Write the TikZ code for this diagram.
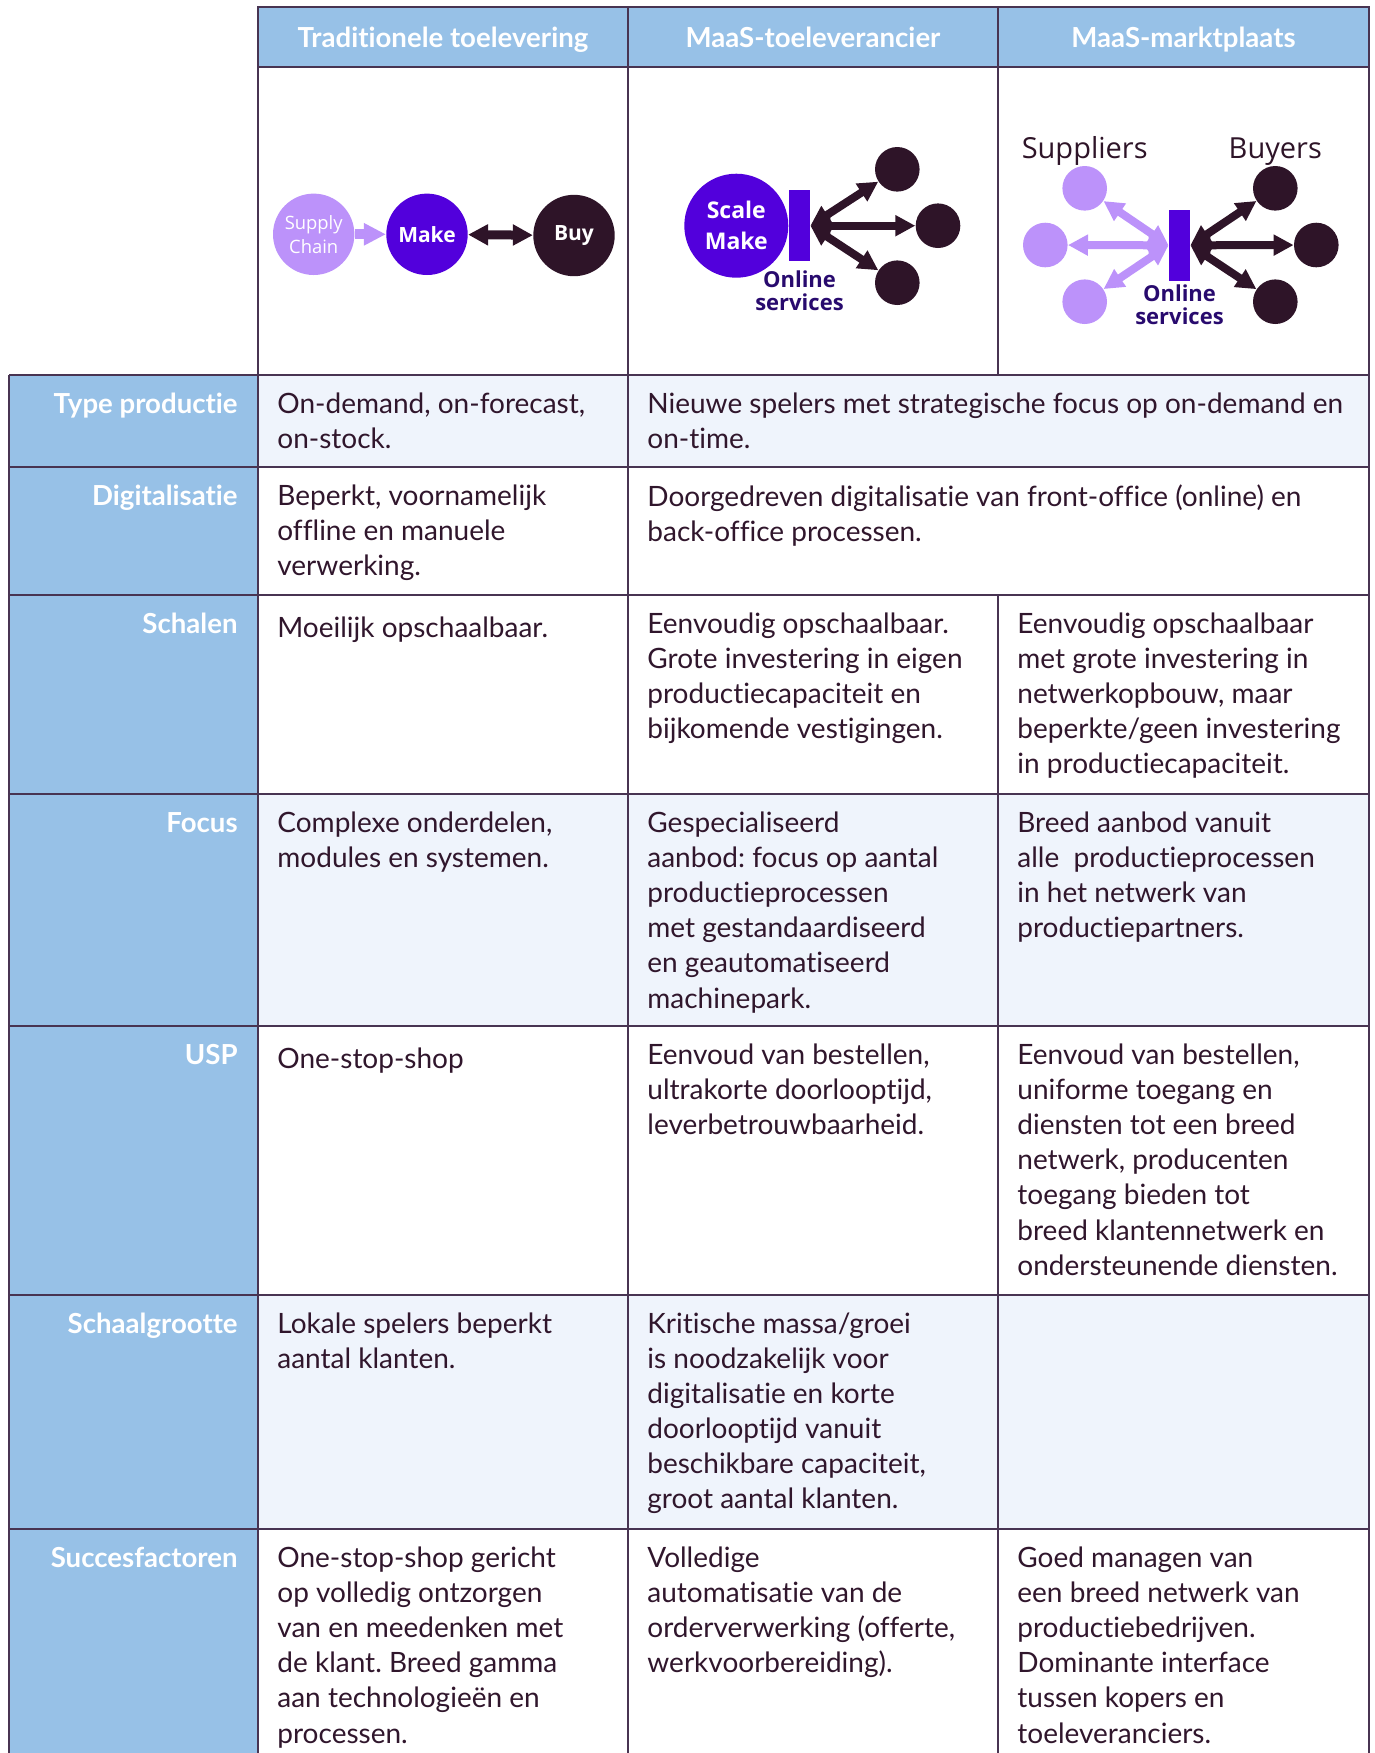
\documentclass[tikz,border=0pt]{standalone}
\usepackage{fontspec}
\setmainfont{Lato}[Ligatures=NoCommon]
\newfontfamily\diagfont{Open Sans}
\frenchspacing
\usetikzlibrary{positioning, arrows.meta, calc}
\def\HeadColor{rgb,255:red,151;green,193;blue,231}
\def\LightRowColor{rgb,255:red,239;green,244;blue,252}
\def\LineColor{rgb,255:red,72;green,52;blue,82}
\def\TextColor{rgb,255:red,48;green,22;blue,44}
\def\MakeColor{rgb,255:red,82;green,0;blue,220}
\def\SupplyColor{rgb,255:red,188;green,146;blue,250}
\def\BuyColor{rgb,255:red,46;green,20;blue,40}
\def\PortalColor{rgb,255:red,40;green,10;blue,110}

\begin{document}
\begin{tikzpicture}[
    x=0.5pt, y=-0.5pt,
    gridline/.style={draw=\LineColor, line width=1pt},
    colhead/.style={anchor=base, inner sep=0, text=white, font=\fontsize{13.8}{16}\selectfont\bfseries},
    rowhead/.style={anchor=base east, inner sep=0, text=white, font=\fontsize{13.8}{16}\selectfont\bfseries},
    celltext/.style={anchor=north west, align=left, inner sep=0, text=\TextColor,
        font=\fontsize{14}{17.55}\selectfont, execute at begin node=\strut},
    bigdisc/.style={circle, inner sep=0, minimum size=40.7pt, text=white, align=center},
    smalldisc/.style={circle, inner sep=0, minimum size=22.3pt},
    portal/.style={rectangle, inner sep=0, fill=\MakeColor, minimum width=10.5pt, minimum height=35.4pt},
    portaltext/.style={inner sep=0, align=center, text=\PortalColor, font=\diagfont\fontsize{11}{11.5}\selectfont\bfseries},
    flowarrow/.style={-{Triangle[width=10.5pt, length=11pt]}, line width=5pt},
    linkarrow/.style={{Triangle[width=10pt, length=10pt]}-{Triangle[width=10pt, length=10pt]}, line width=4pt}
]
\useasboundingbox (0,0) rectangle (1375,1753);
\clip (0,0) rectangle (1375,1753);

%%%%%%%%%%%%%%%%%%%%%%%%%%%%%%%%%%%%%%%%%%%%%%%%%%%%%%%%%%%%%%%%%%%
% Backgrounds
%%%%%%%%%%%%%%%%%%%%%%%%%%%%%%%%%%%%%%%%%%%%%%%%%%%%%%%%%%%%%%%%%%%
\fill[fill=\HeadColor] (258,7) rectangle (1369,67);
\fill[fill=\HeadColor] (9,374.5) rectangle (258,1760);
\foreach \ya/\yb in {374.5/467, 794/1026, 1294.5/1529}
  \fill[fill=\LightRowColor] (258,\ya) rectangle (1369,\yb);

%%%%%%%%%%%%%%%%%%%%%%%%%%%%%%%%%%%%%%%%%%%%%%%%%%%%%%%%%%%%%%%%%%%
% Grid
%%%%%%%%%%%%%%%%%%%%%%%%%%%%%%%%%%%%%%%%%%%%%%%%%%%%%%%%%%%%%%%%%%%
\draw[gridline] (258,7) rectangle (1369,374.5);
\draw[gridline] (258,67) -- (1369,67);
\draw[gridline] (628,7) -- (628,374.5) (998,7) -- (998,374.5);
\foreach \y in {374.5, 467, 595, 794, 1026, 1294.5, 1529}
  \draw[gridline] (9,\y) -- (1369,\y);
\draw[gridline] (9,374.5) -- (9,1760) (258,374.5) -- (258,1760)
  (628,374.5) -- (628,1760) (998,595) -- (998,1760) (1369,374.5) -- (1369,1760);

%%%%%%%%%%%%%%%%%%%%%%%%%%%%%%%%%%%%%%%%%%%%%%%%%%%%%%%%%%%%%%%%%%%
% Column headers
%%%%%%%%%%%%%%%%%%%%%%%%%%%%%%%%%%%%%%%%%%%%%%%%%%%%%%%%%%%%%%%%%%%
\node[colhead] (head_trad) at (443, 47) {Traditionele toelevering};
\node[colhead] (head_lev) at (813, 47) {MaaS-toeleverancier};
\node[colhead] (head_mp) at (1183.5, 47) {MaaS-marktplaats};

%%%%%%%%%%%%%%%%%%%%%%%%%%%%%%%%%%%%%%%%%%%%%%%%%%%%%%%%%%%%%%%%%%%
% Diagram: Traditionele toelevering
%%%%%%%%%%%%%%%%%%%%%%%%%%%%%%%%%%%%%%%%%%%%%%%%%%%%%%%%%%%%%%%%%%%
\node[bigdisc, fill=\SupplyColor, font=\diagfont\fontsize{9.2}{11.8}\selectfont] (trad_supply) at (313.7, 234.3) {Supply\\Chain};
\node[bigdisc, fill=\MakeColor, font=\diagfont\fontsize{10.5}{12}\selectfont\bfseries] (trad_make) at (427, 234.3) {Make};
\node[bigdisc, fill=\BuyColor, font=\diagfont\fontsize{10.5}{12}\selectfont\bfseries] (trad_buy) at (574, 235.5) {Buy};

%%%%%%%%%%%%%%%%%%%%%%%%%%%%%%%%%%%%%%%%%%%%%%%%%%%%%%%%%%%%%%%%%%%
% Diagram: MaaS-toeleverancier
%%%%%%%%%%%%%%%%%%%%%%%%%%%%%%%%%%%%%%%%%%%%%%%%%%%%%%%%%%%%%%%%%%%
\node[bigdisc, minimum size=52pt, fill=\MakeColor, font=\diagfont\fontsize{11.5}{15.5}\selectfont\bfseries] (lev_make) at (736.3, 225.7) {Scale\\Make};
\node[portal] (lev_portal) at (799.5, 225.7) {};
\node[portaltext, below=4.5pt of lev_portal] (lev_online) {Online\\services};

% Buyers
\node[smalldisc, fill=\BuyColor] (lev_buy1) at (897.3, 169.3) {};
\node[smalldisc, fill=\BuyColor] (lev_buy2) at (938, 225.7) {};
\node[smalldisc, fill=\BuyColor] (lev_buy3) at (897.3, 282.7) {};

%%%%%%%%%%%%%%%%%%%%%%%%%%%%%%%%%%%%%%%%%%%%%%%%%%%%%%%%%%%%%%%%%%%
% Diagram: MaaS-marktplaats
%%%%%%%%%%%%%%%%%%%%%%%%%%%%%%%%%%%%%%%%%%%%%%%%%%%%%%%%%%%%%%%%%%%
\node[portal] (mp_portal) at (1179.5, 245.3) {};
\node[portaltext, below=1.8pt of mp_portal] (mp_online) {Online\\services};

% Suppliers
\node[smalldisc, fill=\SupplyColor] (mp_sup1) at (1084.7, 188.3) {};
\node[smalldisc, fill=\SupplyColor] (mp_sup2) at (1045.3, 245) {};
\node[smalldisc, fill=\SupplyColor] (mp_sup3) at (1084.7, 301.7) {};
\node[inner sep=0, text=\BuyColor, font=\diagfont\fontsize{14.5}{16}\selectfont, above=0pt of mp_sup1] (mp_suplabel) {Suppliers};

% Buyers
\node[smalldisc, fill=\BuyColor] (mp_buy1) at (1275.3, 188.3) {};
\node[smalldisc, fill=\BuyColor] (mp_buy2) at (1316.3, 245) {};
\node[smalldisc, fill=\BuyColor] (mp_buy3) at (1275.3, 301.7) {};
\node[inner sep=0, text=\BuyColor, font=\diagfont\fontsize{14.5}{16}\selectfont, above=0pt of mp_buy1] (mp_buylabel) {Buyers};

%%%%%%%%%%%%%%%%%%%%%%%%%%%%%%%%%%%%%%%%%%%%%%%%%%%%%%%%%%%%%%%%%%%
% Row headers
%%%%%%%%%%%%%%%%%%%%%%%%%%%%%%%%%%%%%%%%%%%%%%%%%%%%%%%%%%%%%%%%%%%
\node[rowhead] (typ_head) at (238, 413) {Type productie};
\node[rowhead] (dig_head) at (238, 505.5) {Digitalisatie};
\node[rowhead] (sch_head) at (238, 633.5) {Schalen};
\node[rowhead] (foc_head) at (238, 832.5) {Focus};
\node[rowhead] (usp_head) at (238, 1064.5) {USP};
\node[rowhead] (grt_head) at (238, 1333) {Schaalgrootte};
\node[rowhead] (suc_head) at (238, 1567.5) {Succesfactoren};

%%%%%%%%%%%%%%%%%%%%%%%%%%%%%%%%%%%%%%%%%%%%%%%%%%%%%%%%%%%%%%%%%%%
% Cells
%%%%%%%%%%%%%%%%%%%%%%%%%%%%%%%%%%%%%%%%%%%%%%%%%%%%%%%%%%%%%%%%%%%
% Type productie
\node[celltext] (typ_trad) at (277, 392) {On-demand, on-forecast,\\on-stock.};
\node[celltext] (typ_maas) at (647, 392) {Nieuwe spelers met strategische focus op on-demand en\\on-time.};

% Digitalisatie
\node[celltext] (dig_trad) at (277, 484.5) {Beperkt, voornamelijk\\offline en manuele\\verwerking.};
\node[celltext] (dig_maas) at (647, 484.5) {Doorgedreven digitalisatie van front-office (online) en\\back-office processen.};

% Schalen
\node[celltext] (sch_trad) at (277, 612.5) {Moeilijk opschaalbaar.};
\node[celltext] (sch_lev) at (647, 612.5) {Eenvoudig opschaalbaar.\\Grote investering in eigen\\productiecapaciteit en\\bijkomende vestigingen.};
\node[celltext] (sch_mp) at (1017, 612.5) {Eenvoudig opschaalbaar\\met grote investering in\\netwerkopbouw, maar\\beperkte/geen investering\\in productiecapaciteit.};

% Focus
\node[celltext] (foc_trad) at (277, 811.5) {Complexe onderdelen,\\modules en systemen.};
\node[celltext] (foc_lev) at (647, 811.5) {Gespecialiseerd\\aanbod: focus op aantal\\productieprocessen\\met gestandaardiseerd\\en geautomatiseerd\\machinepark.};
\node[celltext] (foc_mp) at (1017, 811.5) {Breed aanbod vanuit\\alle\ \ productieprocessen\\in het netwerk van\\productiepartners.};

% USP
\node[celltext] (usp_trad) at (277, 1043.5) {One-stop-shop};
\node[celltext] (usp_lev) at (647, 1043.5) {Eenvoud van bestellen,\\ultrakorte doorlooptijd,\\leverbetrouwbaarheid.};
\node[celltext] (usp_mp) at (1017, 1043.5) {Eenvoud van bestellen,\\uniforme toegang en\\diensten tot een breed\\netwerk, producenten\\toegang bieden tot\\breed klantennetwerk en\\ondersteunende diensten.};

% Schaalgrootte
\node[celltext] (grt_trad) at (277, 1312) {Lokale spelers beperkt\\aantal klanten.};
\node[celltext] (grt_lev) at (647, 1312) {Kritische massa/groei\\is noodzakelijk voor\\digitalisatie en korte\\doorlooptijd vanuit\\beschikbare capaciteit,\\groot aantal klanten.};

% Succesfactoren
\node[celltext] (suc_trad) at (277, 1546.5) {One-stop-shop gericht\\op volledig ontzorgen\\van en meedenken met\\de klant. Breed gamma\\aan technologieën en\\processen.};
\node[celltext] (suc_lev) at (647, 1546.5) {Volledige\\automatisatie van de\\orderverwerking (offerte,\\werkvoorbereiding).};
\node[celltext] (suc_mp) at (1017, 1546.5) {Goed managen van\\een breed netwerk van\\productiebedrijven.\\Dominante interface\\tussen kopers en\\toeleveranciers.};

%%%%%%%%%%%%%%%%%%%%%%%%%%%%%%%%%%%%%%%%%%%%%%%%%%%%%%%%%%%%%%%%%%%
% Connections
%%%%%%%%%%%%%%%%%%%%%%%%%%%%%%%%%%%%%%%%%%%%%%%%%%%%%%%%%%%%%%%%%%%
\draw[flowarrow, draw=\SupplyColor] (trad_supply) -- (trad_make);
\draw[linkarrow, line width=4.5pt, draw=\BuyColor] (trad_make) -- (trad_buy);

\draw[linkarrow, draw=\BuyColor] (lev_portal.east) -- (lev_buy1);
\draw[linkarrow, draw=\BuyColor] (lev_portal.east) -- (lev_buy2);
\draw[linkarrow, draw=\BuyColor] (lev_portal.east) -- (lev_buy3);

\draw[linkarrow, draw=\SupplyColor] (mp_portal.west) -- (mp_sup1);
\draw[linkarrow, draw=\SupplyColor] (mp_portal.west) -- (mp_sup2);
\draw[linkarrow, draw=\SupplyColor] (mp_portal.west) -- (mp_sup3);
\draw[linkarrow, draw=\BuyColor] (mp_portal.east) -- (mp_buy1);
\draw[linkarrow, draw=\BuyColor] (mp_portal.east) -- (mp_buy2);
\draw[linkarrow, draw=\BuyColor] (mp_portal.east) -- (mp_buy3);

\end{tikzpicture}
\end{document}
